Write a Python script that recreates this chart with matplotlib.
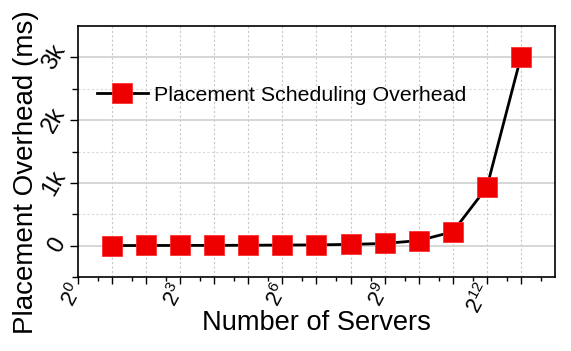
import numpy as np
import matplotlib
matplotlib.use('Agg')
import matplotlib.pyplot as plt
from matplotlib.ticker import FixedLocator, FixedFormatter

plt.rcParams['font.family'] = ['Liberation Sans', 'DejaVu Sans']
plt.rcParams['mathtext.fontset'] = 'custom'
plt.rcParams['mathtext.rm'] = 'Liberation Sans'
plt.rcParams['mathtext.it'] = 'Liberation Sans'

# datos
exponentes = np.arange(1, 14)
servers = 2.0**exponentes
overhead = [1, 2, 3, 4, 6, 9, 12, 20, 35, 80, 220, 930, 3010]

x_label_exp = [0, 3, 6, 9, 12]
y_ticks = [0, 1000, 2000, 3000]
y_labels = ['0', '1k', '2k', '3k']

fig = plt.figure(figsize=(5.71, 3.51), dpi=100)
ax = fig.add_axes([78/571, 74/351, (555-78)/571, (277-26)/351])

ax.plot(servers, overhead, '-', color='black', linewidth=2,
        marker='s', markersize=15, markerfacecolor='#ee0000',
        markeredgecolor='#ff3030', markeredgewidth=0.6,
        label='Placement Scheduling Overhead', zorder=3)

ax.set_xscale('log', base=2)
ax.set_xlim(2**0, 2**14)
ax.set_ylim(-500, 3500)

# ticks x
ax.xaxis.set_major_locator(FixedLocator([2.0**e for e in range(0, 14)]))
ax.xaxis.set_major_formatter(FixedFormatter(
    ['$2^{%d}$' % e if e in x_label_exp else '' for e in range(0, 14)]))
ax.xaxis.set_minor_locator(FixedLocator([1.5*2.0**e for e in range(0, 14)]))
ax.tick_params(axis='x', which='major', direction='out', length=5, width=1,
               labelsize=15.5, pad=1)
ax.tick_params(axis='x', which='minor', direction='out', length=3, width=1)
for lbl in ax.get_xticklabels():
    lbl.set_rotation(62)
    lbl.set_rotation_mode('anchor')
    lbl.set_ha('right')
    lbl.set_va('center')

# ticks y
ax.yaxis.set_major_locator(FixedLocator(y_ticks))
ax.yaxis.set_major_formatter(FixedFormatter(y_labels))
ax.yaxis.set_minor_locator(FixedLocator([-500, 500, 1500, 2500]))
ax.tick_params(axis='y', which='major', direction='out', length=6, width=1,
               labelsize=17, pad=0)
ax.tick_params(axis='y', which='minor', direction='out', length=4, width=1)
for lbl in ax.get_yticklabels():
    lbl.set_rotation(60)
    lbl.set_va('center')

# grid
for e in range(1, 14):
    ax.axvline(2.0**e, color='#c8c8c8', linestyle=(0, (2, 2)), linewidth=0.8, zorder=0)
for v in y_ticks:
    ax.axhline(v, color='#d0d0d0', linestyle='-', linewidth=1.2, zorder=0)
for v in [500, 1500, 2500]:
    ax.axhline(v, color='#d8d8d8', linestyle=(0, (2, 2)), linewidth=0.8, zorder=0)

for s in ax.spines.values():
    s.set_linewidth(1.2)

ax.set_xlabel('Number of Servers', fontsize=19.6, va='center')
ax.xaxis.set_label_coords(0.5, -0.183)
ax.set_ylabel('Placement Overhead (ms)', fontsize=20, va='center')
ax.yaxis.set_label_coords(-0.11, 0.418)

ax.legend(loc='center left', bbox_to_anchor=(0.0, 0.725), frameon=False,
          fontsize=15.4, handlelength=2.35, handletextpad=0.3)

plt.savefig('out.png', dpi=100)
